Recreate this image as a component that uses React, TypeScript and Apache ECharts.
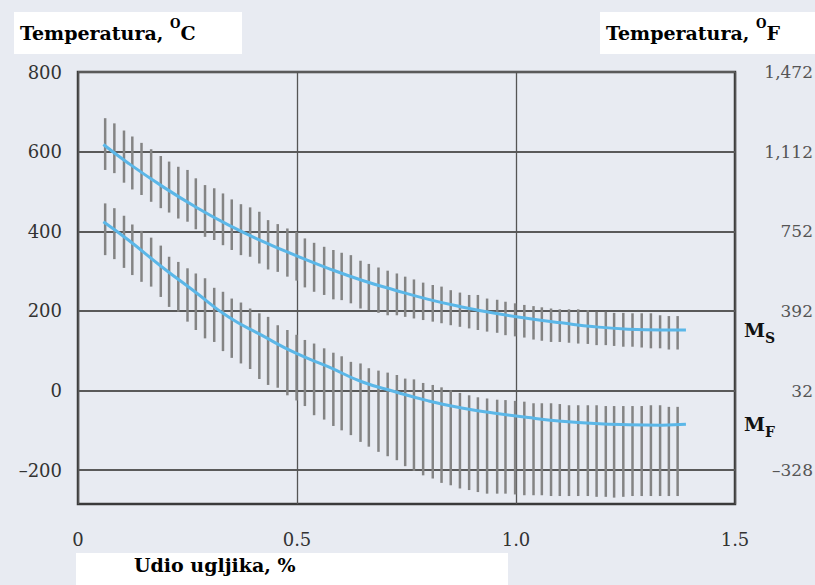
import React, { useEffect, useRef } from 'react';
import * as echarts from 'echarts';

// Carbon content (%) of each hatch line
const BAR_X = [
  0.062, 0.083, 0.105, 0.124, 0.145, 0.167, 0.189, 0.208, 0.229, 0.250,
  0.269, 0.290, 0.311, 0.331, 0.351, 0.372, 0.393, 0.414, 0.434, 0.456,
  0.478, 0.499, 0.518, 0.539, 0.562, 0.583, 0.602, 0.623, 0.645, 0.664,
  0.686, 0.707, 0.728, 0.747, 0.767, 0.788, 0.810, 0.830, 0.851, 0.872,
  0.893, 0.913, 0.934, 0.957, 0.976, 0.998, 1.019, 1.040, 1.059, 1.080,
  1.100, 1.121, 1.142, 1.164, 1.184, 1.205, 1.224, 1.245, 1.266, 1.287,
  1.308, 1.329, 1.349, 1.369,
];

// Ms scatter band (°C)
const MS_HIGH = [
  684, 671, 653, 638, 622, 606, 589, 575, 562, 554,
  533, 516, 508, 495, 480, 468, 460, 449, 428, 418,
  407, 398, 382, 371, 361, 353, 346, 340, 326, 318,
  309, 301, 294, 286, 279, 271, 265, 261, 252, 246,
  240, 240, 231, 228, 223, 219, 215, 212, 209, 206,
  204, 204, 204, 202, 198, 198, 195, 195, 194, 194,
  194, 189, 187, 187,
];
const MS_LOW = [
  554, 546, 522, 505, 491, 474, 458, 447, 432, 424,
  405, 386, 378, 365, 353, 340, 336, 319, 304, 298,
  286, 276, 259, 248, 240, 229, 227, 219, 206, 202,
  195, 189, 189, 185, 181, 177, 173, 169, 164, 160,
  156, 152, 148, 145, 139, 136, 133, 128, 125, 122,
  122, 120, 118, 117, 114, 114, 112, 110, 110, 108,
  106, 106, 103, 103,
];

// Mf scatter band (°C)
const MF_HIGH = [
  470, 458, 439, 417, 401, 384, 364, 336, 323, 307,
  294, 282, 258, 248, 231, 221, 206, 194, 185, 164,
  152, 140, 127, 118, 106, 95, 86, 72, 68, 56,
  50, 45, 39, 30, 28, 19, 14, 8, 1, -6,
  -12, -17, -20, -23, -24, -26, -28, -32, -32, -32,
  -34, -37, -37, -37, -37, -39, -39, -39, -39, -39,
  -37, -37, -41, -41,
];
const MF_LOW = [
  340, 330, 308, 290, 273, 261, 235, 210, 198, 173,
  152, 131, 122, 99, 82, 68, 54, 29, 14, 7,
  -12, -25, -39, -62, -73, -89, -100, -112, -129, -141,
  -154, -165, -175, -190, -202, -213, -221, -232, -238, -246,
  -250, -255, -259, -259, -259, -261, -263, -263, -263, -265,
  -265, -265, -265, -265, -267, -267, -269, -267, -265, -265,
  -265, -265, -265, -265,
];

// Mean curves
const CURVE_X = [0.058, 0.115, 0.191, 0.267, 0.343, 0.419, 0.495, 0.571, 0.648, 0.724, 0.8, 0.876, 0.952, 1.028, 1.104, 1.18, 1.256, 1.333, 1.388];
const MS_CURVE = [618, 571, 514, 462, 416, 376, 340, 307, 277, 252, 229, 210, 194, 181, 170, 160, 154, 152, 152];
const MF_CURVE = [424, 378, 311, 248, 185, 139, 95, 60, 22, -3, -26, -44, -57, -68, -77, -83, -86, -87, -85];

// Axis ticks
const Y_TICKS = [-200, 0, 200, 400, 600, 800];
const Y_TICK_LABELS = ['\u2013200', '0', '200', '400', '600', '800'];
const F_TICK_LABELS = ['\u2013328', '32', '392', '752', '1,112', '1,472'];
const X_TICK_LABELS: Record<string, string> = { '0': '0', '0.5': '0.5', '1': '1.0', '1.5': '1.5' };

const BG = '#e8ebf2';
const SERIF = "'DejaVu Serif', 'Liberation Serif', serif";

export default function App() {
  const ref = useRef<HTMLDivElement>(null);

  useEffect(() => {
    document.body.style.margin = '0';
    const chart = echarts.init(ref.current as HTMLDivElement, null, { renderer: 'svg' });

    const bandItem = (color: string) => (params: any, api: any) => {
      const top = api.coord([api.value(0), api.value(2)]);
      const bot = api.coord([api.value(0), api.value(1)]);
      return {
        type: 'line',
        shape: { x1: top[0], y1: top[1], x2: bot[0], y2: bot[1] },
        style: { stroke: color, lineWidth: 2.5 },
      };
    };

    const titleRich = {
      a: { fontFamily: SERIF, fontSize: 19, fontWeight: 'bold', color: '#000', lineHeight: 30 },
      sup: { fontFamily: SERIF, fontSize: 12, fontWeight: 'bold', color: '#000', lineHeight: 16, verticalAlign: 'top' },
    };
    const subRich = {
      m: { fontFamily: SERIF, fontSize: 19, fontWeight: 'bold', color: '#111', lineHeight: 30 },
      s: { fontFamily: SERIF, fontSize: 14, fontWeight: 'bold', color: '#111', lineHeight: 15, verticalAlign: 'bottom' },
    };

    chart.setOption({
      animation: false,
      backgroundColor: BG,
      grid: {
        left: 78,
        top: 72,
        width: 657,
        height: 432,
        show: true,
        borderColor: '#3a3a3a',
        borderWidth: 2.5,
        backgroundColor: 'transparent',
      },
      xAxis: {
        type: 'value',
        min: 0,
        max: 1.5,
        interval: 0.5,
        axisLine: { show: false },
        axisTick: { show: false },
        splitLine: { show: true, lineStyle: { color: '#555', width: 1.3 } },
        axisLabel: {
          margin: 26,
          fontFamily: SERIF,
          fontSize: 18,
          color: '#333',
          formatter: (v: number) => X_TICK_LABELS[String(v)] ?? String(v),
        },
      },
      yAxis: [
        {
          type: 'value',
          min: -285,
          max: 800,
          axisLine: { show: false },
          axisTick: { show: false, customValues: Y_TICKS },
          splitLine: { show: true, lineStyle: { color: '#5a5a5a', width: 2 } },
          axisLabel: {
            customValues: Y_TICKS,
            margin: 16,
            fontFamily: SERIF,
            fontSize: 18,
            color: '#333',
            formatter: (v: number) => Y_TICK_LABELS[Y_TICKS.indexOf(v)] ?? String(v),
          },
        },
        {
          type: 'value',
          position: 'right',
          min: -285,
          max: 800,
          axisLine: { show: false },
          axisTick: { show: false, customValues: Y_TICKS },
          splitLine: { show: false },
          axisLabel: {
            customValues: Y_TICKS,
            margin: 78,
            align: 'right',
            fontFamily: SERIF,
            fontSize: 17,
            color: '#555',
            formatter: (v: number) => F_TICK_LABELS[Y_TICKS.indexOf(v)] ?? '',
          },
        },
      ],
      series: [
        {
          type: 'custom',
          name: 'Ms raspon',
          renderItem: bandItem('#848484'),
          encode: { x: 0, y: [1, 2] },
          data: BAR_X.map((x, i) => [x, MS_LOW[i], MS_HIGH[i]]),
          z: 2,
        },
        {
          type: 'custom',
          name: 'Mf raspon',
          renderItem: bandItem('#848484'),
          encode: { x: 0, y: [1, 2] },
          data: BAR_X.map((x, i) => [x, MF_LOW[i], MF_HIGH[i]]),
          z: 2,
        },
        {
          type: 'line',
          name: 'Ms',
          smooth: true,
          showSymbol: false,
          lineStyle: { color: '#5bb7e8', width: 3 },
          data: CURVE_X.map((x, i) => [x, MS_CURVE[i]]),
          z: 3,
          endLabel: { show: true, distance: 58, formatter: '{m|M}{s|S}', rich: subRich },
        },
        {
          type: 'line',
          name: 'Mf',
          smooth: true,
          showSymbol: false,
          lineStyle: { color: '#5bb7e8', width: 3 },
          data: CURVE_X.map((x, i) => [x, MF_CURVE[i]]),
          z: 3,
          endLabel: { show: true, distance: 58, formatter: '{m|M}{s|F}', rich: subRich },
        },
      ],
      graphic: [
        { type: 'rect', left: 14, top: 12, shape: { width: 228, height: 42 }, style: { fill: '#fff' }, z: 10 },
        {
          type: 'text', left: 20, top: 18, z: 11,
          style: { text: '{a|Temperatura, }{sup|O}{a|C}', rich: titleRich },
        },
        { type: 'rect', left: 600, top: 12, shape: { width: 230, height: 42 }, style: { fill: '#fff' }, z: 10 },
        {
          type: 'text', left: 606, top: 18, z: 11,
          style: { text: '{a|Temperatura, }{sup|O}{a|F}', rich: titleRich },
        },
        { type: 'rect', left: 76, top: 553, shape: { width: 432, height: 40 }, style: { fill: '#fff' }, z: 10 },
        {
          type: 'text', left: 134, top: 555, z: 11,
          style: { text: '{a|Udio ugljika, %}', rich: titleRich },
        },
      ],
    });

    return () => chart.dispose();
  }, []);

  return (
    <div style={{ position: 'absolute', left: 0, top: 0, width: 815, height: 585, overflow: 'hidden', background: BG }}>
      <div ref={ref} style={{ width: 830, height: 585 }} />
    </div>
  );
}
